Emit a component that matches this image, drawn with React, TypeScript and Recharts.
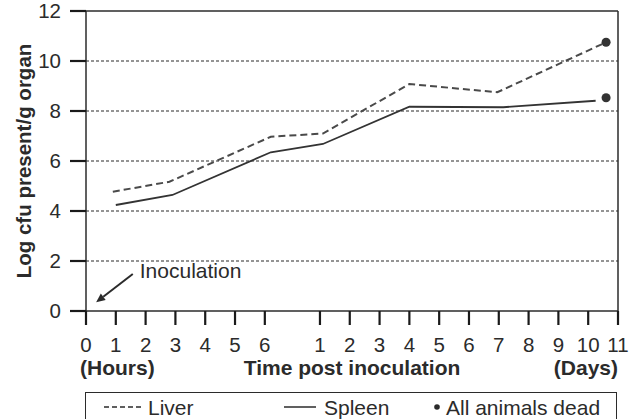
import { ComposedChart, Line, Scatter, XAxis, YAxis, ReferenceLine, Legend, Label } from "recharts";

// x axis: hours 0..6, then a break, then days 1..11
const DAY_ONE = 7.85;
const X_MAX = 17.85;
const hourTicks = [0, 1, 2, 3, 4, 5, 6];
const dayTicks = [1, 2, 3, 4, 5, 6, 7, 8, 9, 10, 11];
const yTicks = [0, 2, 4, 6, 8, 10, 12];
const gridValues = [2, 4, 6, 8, 10];

const liverHours = [0.9, 2.8, 6.2];
const liverDays = [1.1, 4, 6.95, 10.6];
const liverLog = [4.77, 5.17, 6.97, 7.1, 9.08, 8.75, 10.75];

const spleenHours = [1, 2.9, 6.2];
const spleenDays = [1.1, 4, 7.15, 10.25];
const spleenLog = [4.24, 4.64, 6.35, 6.68, 8.17, 8.15, 8.41];

const deadDays = [10.6, 10.6];
const deadLog = [10.75, 8.53];

const legendOrder = ["Liver", "Spleen", "All animals dead"];

const dayX = (d: number) => DAY_ONE + d - 1;

const toSeries = (hours: number[], days: number[], values: number[]) =>
  [...hours, ...days.map(dayX)].map((x, i) => ({ x, log: values[i] }));

const liverData = toSeries(liverHours, liverDays, liverLog);
const spleenData = toSeries(spleenHours, spleenDays, spleenLog);
const deadData = deadDays.map((d, i) => ({ x: dayX(d), log: deadLog[i] }));

const xTickValues = [...hourTicks, ...dayTicks.map(dayX)];
const xTickLabels = [...hourTicks, ...dayTicks].map(String);

const INK = "#2b2b2b";
const TICK_INK = "#1a1a1a";
const FONT = "'Liberation Sans', Arial, sans-serif";

const X_TICK = 14;
const X_GAP = 12;
const Y_TICK = 16;
const Y_GAP = 9;

const XTick = (props: any) => {
  const { x, y, payload } = props;
  const top = y - X_GAP - X_TICK;
  const label = xTickLabels[xTickValues.indexOf(payload.value)] ?? "";
  return (
    <g>
      <path d={`M${x},${top}V${top + X_TICK}`} stroke={TICK_INK} strokeWidth={2.2} fill="none" />
      <text x={x} y={y} dy="0.71em" textAnchor="middle" style={{ fontFamily: FONT, fontSize: 20.5, fill: INK }}>
        {label}
      </text>
    </g>
  );
};

const YTick = (props: any) => {
  const { x, y, payload } = props;
  const right = x + Y_GAP + Y_TICK;
  return (
    <g>
      <path d={`M${right - Y_TICK},${y}H${right}`} stroke={TICK_INK} strokeWidth={2.2} fill="none" />
      <text x={x} y={y} dy="0.355em" textAnchor="end" style={{ fontFamily: FONT, fontSize: 20.5, fill: INK }}>
        {payload.value}
      </text>
    </g>
  );
};

const XTitles = (props: any) => {
  const { x, y, width } = props.viewBox;
  const base = y + 64;
  const style = { fontFamily: FONT, fontSize: 21, fontWeight: 700, fill: INK };
  return (
    <g>
      <text x={x - 6} y={base} textAnchor="start" style={style}>(Hours)</text>
      <text x={x + 266} y={base} textAnchor="middle" style={style}>Time post inoculation</text>
      <text x={x + width} y={base} textAnchor="end" style={style}>(Days)</text>
    </g>
  );
};

const YTitle = (props: any) => {
  const { x, y, height } = props.viewBox;
  const cx = x + 23;
  const cy = y + height / 2;
  return (
    <text
      x={cx}
      y={cy}
      transform={`rotate(-90 ${cx} ${cy})`}
      textAnchor="middle"
      dominantBaseline="central"
      style={{ fontFamily: FONT, fontSize: 20.5, fontWeight: 700, fill: INK }}
    >
      Log cfu present/g organ
    </text>
  );
};

const InoculationArrow = (props: any) => {
  const { x1, y1, x2, y2 } = props;
  const ang = Math.atan2(y2 - y1, x2 - x1);
  const len = 9;
  const w = 4;
  const bx = x2 - len * Math.cos(ang);
  const by = y2 - len * Math.sin(ang);
  const px = -Math.sin(ang) * w;
  const py = Math.cos(ang) * w;
  return (
    <g>
      <line x1={x1} y1={y1} x2={bx} y2={by} stroke={INK} strokeWidth={2} />
      <polygon points={`${x2},${y2} ${bx + px},${by + py} ${bx - px},${by - py}`} fill={INK} />
      <text x={x1 + 7} y={y1 + 4} style={{ fontFamily: FONT, fontSize: 21, fill: INK }}>
        Inoculation
      </text>
    </g>
  );
};

const legendLeft = [18, 198, 351];
const legendTextLeft = [62, 238, 360];

const LegendBox = (props: any) => {
  const { payload = [] } = props;
  const items = [...payload].sort((a: any, b: any) => legendOrder.indexOf(a.value) - legendOrder.indexOf(b.value));
  return (
    <div
      style={{
        position: "relative",
        width: 532,
        height: 40,
        border: `1.5px solid ${INK}`,
        boxSizing: "border-box",
        fontFamily: FONT,
        fontSize: 21,
        color: INK,
        lineHeight: "20px",
      }}
    >
      {items.map((p: any) => {
        const i = legendOrder.indexOf(p.value);
        return (
          <div key={p.value}>
            {i < 2 ? (
              <svg style={{ position: "absolute", left: legendLeft[i], top: 12 }} width={40} height={4}>
                <line
                  x1={0}
                  y1={2}
                  x2={i === 0 ? 39 : 32}
                  y2={2}
                  stroke={INK}
                  strokeWidth={1.5}
                  strokeDasharray={i === 0 ? "5 3" : undefined}
                />
              </svg>
            ) : (
              <svg style={{ position: "absolute", left: legendLeft[i] - 4, top: 10 }} width={8} height={8}>
                <circle cx={4} cy={4} r={2.8} fill={INK} />
              </svg>
            )}
            <span style={{ position: "absolute", left: legendTextLeft[i], top: 5, whiteSpace: "nowrap" }}>
              {p.value}
            </span>
          </div>
        );
      })}
    </div>
  );
};

export default function App() {
  return (
    <div style={{ position: "absolute", left: 0, top: 0, background: "#fff" }}>
      <ComposedChart width={630} height={419} margin={{ top: 11, right: 12, left: 0, bottom: 0 }}>
        {gridValues.map((v) => (
          <ReferenceLine key={v} y={v} stroke={INK} strokeWidth={1.2} strokeDasharray="3 2" />
        ))}
        <ReferenceLine y={12} stroke={INK} strokeWidth={1.5} />
        <ReferenceLine x={X_MAX} stroke={INK} strokeWidth={1.5} />
        <XAxis
          type="number"
          dataKey="x"
          domain={[0, X_MAX]}
          ticks={xTickValues}
          interval={0}
          height={108}
          tickSize={X_TICK}
          tickMargin={X_GAP}
          axisLine={{ stroke: INK, strokeWidth: 1.5 }}
          tickLine={false}
          tick={XTick}
          allowDataOverflow
        >
          <Label content={XTitles} />
        </XAxis>
        <YAxis
          type="number"
          dataKey="log"
          domain={[0, 12]}
          ticks={yTicks}
          interval={0}
          width={86}
          tickSize={Y_TICK}
          tickMargin={Y_GAP}
          axisLine={{ stroke: INK, strokeWidth: 1.5 }}
          tickLine={false}
          tick={YTick}
        >
          <Label content={YTitle} />
        </YAxis>
        <ReferenceLine
          segment={[
            { x: 1.57, y: 1.48 },
            { x: 0.34, y: 0.35 },
          ]}
          shape={InoculationArrow}
        />
        <Line
          data={liverData}
          dataKey="log"
          name="Liver"
          type="linear"
          stroke="#4a4a4a"
          strokeWidth={2}
          strokeDasharray="7 4"
          dot={false}
          activeDot={false}
          isAnimationActive={false}
        />
        <Line
          data={spleenData}
          dataKey="log"
          name="Spleen"
          type="linear"
          stroke="#333"
          strokeWidth={1.8}
          dot={false}
          activeDot={false}
          isAnimationActive={false}
        />
        <Scatter data={deadData} dataKey="log" name="All animals dead" fill="#333" shape="circle" isAnimationActive={false} />
        <Legend
          layout="horizontal"
          verticalAlign="middle"
          align="center"
          content={LegendBox}
          wrapperStyle={{ top: 392, left: 85, width: 532, height: 40 }}
        />
      </ComposedChart>
    </div>
  );
}
